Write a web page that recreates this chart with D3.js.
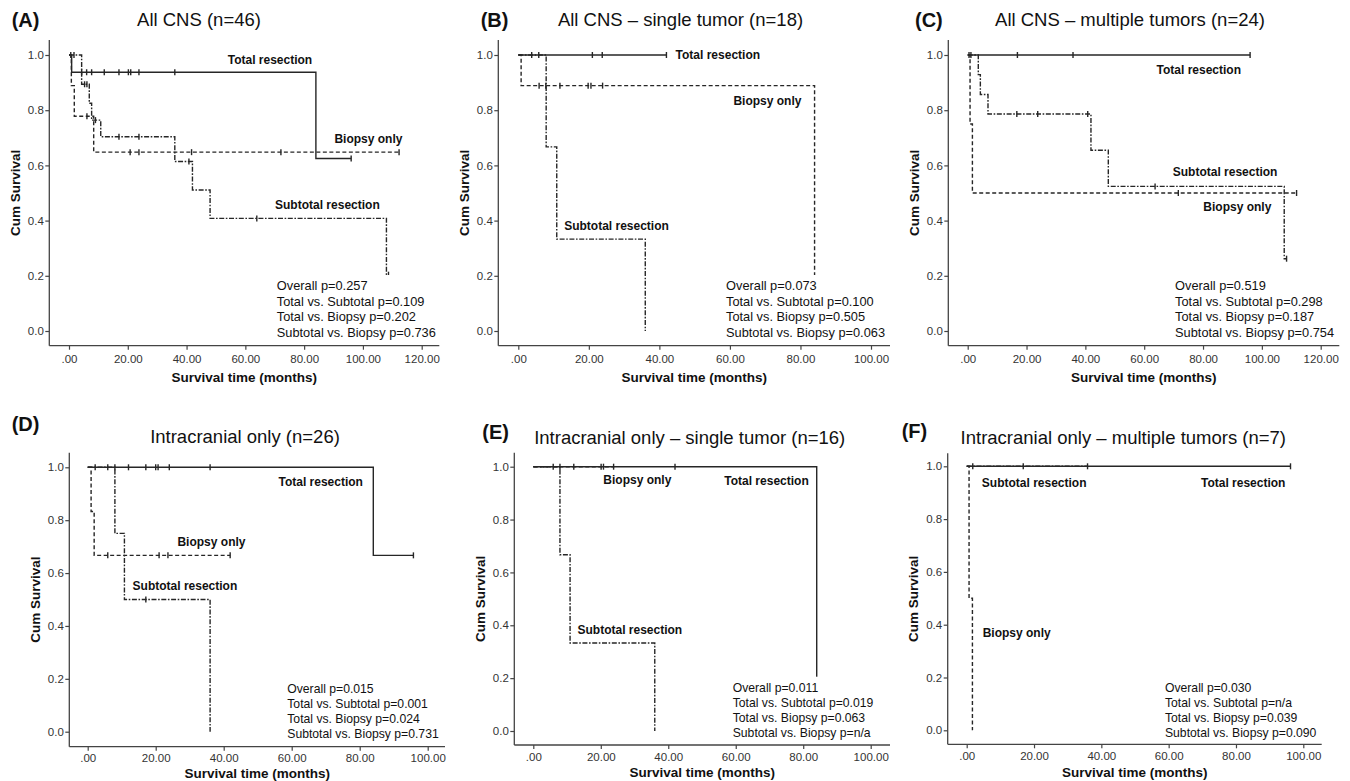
<!DOCTYPE html>
<html><head><meta charset="utf-8">
<script src="https://cdn.jsdelivr.net/npm/d3@7"></script>
<style>
body{margin:0;background:#fff;}
svg{display:block;font-family:"Liberation Sans",Arial,sans-serif;}
</style>
</head><body>
<svg id="chart" width="1350" height="781"></svg>
<script>
// ================= DATA =================
const panelLetters = ["(A)", "(B)", "(C)", "(D)", "(E)", "(F)"];
const panelTitles = [
  "All CNS (n=46)",
  "All CNS – single tumor (n=18)",
  "All CNS – multiple tumors (n=24)",
  "Intracranial only (n=26)",
  "Intracranial only – single tumor (n=16)",
  "Intracranial only – multiple tumors (n=7)"
];
const seriesNames = ["Total resection", "Subtotal resection", "Biopsy only"];
const xTicks120 = [0, 20, 40, 60, 80, 100, 120];
const xTicks100 = [0, 20, 40, 60, 80, 100];
const yTicks = [0, 0.2, 0.4, 0.6, 0.8, 1.0];
const xAxisTitle = "Survival time (months)";
const yAxisTitle = "Cum Survival";

// Panel A — steps: [time, survival after drop]
const aTotalSteps = [[0.9, 0.9375], [84, 0.625]];
const aTotalEnd = 96;
const aTotalCensor = [4.3, 6.0, 7.7, 12, 17, 20.2, 21, 23.8, 36, 96];
const aSubSteps = [[4.3, 0.894], [6.9, 0.825], [7.7, 0.764], [10.8, 0.704], [36, 0.614], [42, 0.511], [48, 0.408], [108, 0.204]];
const aSubEnd = 108.7;
const aSubCensor = [0.6, 1.7, 5.3, 6.1, 9, 17, 23.8, 40.8, 63.9, 108.7];
const aBioSteps = [[0.8, 0.889], [1.8, 0.778], [8.4, 0.648]];
const aBioEnd = 112.3;
const aBioCensor = [6.1, 20.8, 23.8, 41.7, 72.1, 112.3];
const aPValues = ["Overall p=0.257", "Total vs. Subtotal p=0.109", "Total vs. Biopsy p=0.202", "Subtotal vs. Biopsy p=0.736"];

// Panel B
const bTotalSteps = [];
const bTotalEnd = 42;
const bTotalCensor = [3.8, 5.8, 21, 23.8, 42];
const bSubSteps = [[7.9, 0.667], [10.9, 0.333], [36, 0]];
const bSubEnd = 36;
const bSubCensor = [];
const bBioSteps = [[0.8, 0.889], [84, 0]];
const bBioEnd = 84;
const bBioCensor = [5.9, 7.8, 11.8, 19.8, 20.6, 23.9];
const bPValues = ["Overall p=0.073", "Total vs. Subtotal p=0.100", "Total vs. Biopsy p=0.505", "Subtotal vs. Biopsy p=0.063"];

// Panel C
const cTotalSteps = [];
const cTotalEnd = 96;
const cTotalCensor = [0.45, 1.1, 16.9, 35.8, 96];
const cSubSteps = [[3.6, 0.929], [4.3, 0.857], [6.9, 0.786], [41.9, 0.655], [47.8, 0.524], [107.6, 0.262]];
const cSubEnd = 108.4;
const cSubCensor = [16.7, 23.8, 40.8, 63.7, 108.4];
const cBioSteps = [[0.8, 0.75], [1.6, 0.5]];
const cBioEnd = 111.8;
const cBioCensor = [71.6, 111.8];
const cPValues = ["Overall p=0.519", "Total vs. Subtotal p=0.298", "Total vs. Biopsy p=0.187", "Subtotal vs. Biopsy p=0.754"];

// Panel D
const dTotalSteps = [[84, 0.667]];
const dTotalEnd = 95.8;
const dTotalCensor = [2.2, 5.9, 8, 12, 17.1, 20, 20.7, 24, 36, 95.8];
const dSubSteps = [[8, 0.75], [10.8, 0.5], [36, 0]];
const dSubEnd = 36;
const dSubCensor = [17.1];
const dBioSteps = [[1, 0.833], [1.9, 0.667]];
const dBioEnd = 41.9;
const dBioCensor = [5.9, 21, 23.6, 41.9];
const dPValues = ["Overall p=0.015", "Total vs. Subtotal p=0.001", "Total vs. Biopsy p=0.024", "Subtotal vs. Biopsy p=0.731"];

// Panel E
const eTotalSteps = [[84, 0]];
const eTotalEnd = 84;
const eTotalCensor = [5.9, 20.8, 42];
const eSubSteps = [[7.9, 0.667], [10.9, 0.333], [36, 0]];
const eSubEnd = 36;
const eSubCensor = [];
const eBioSteps = [];
const eBioEnd = 24;
const eBioCensor = [7.9, 12, 20.1, 23.8];
const ePValues = ["Overall p=0.011", "Total vs. Subtotal p=0.019", "Total vs. Biopsy p=0.063", "Subtotal vs. Biopsy p=n/a"];

// Panel F
const fTotalSteps = [];
const fTotalEnd = 96.2;
const fTotalCensor = [96.2];
const fSubSteps = [];
const fSubEnd = 35.9;
const fSubCensor = [1.8, 16.8, 35.9];
const fBioSteps = [[0.7, 0.5], [1.7, 0]];
const fBioEnd = 1.7;
const fBioCensor = [];
const fPValues = ["Overall p=0.030", "Total vs. Subtotal p=n/a", "Total vs. Biopsy p=0.039", "Subtotal vs. Biopsy p=0.090"];

// ================= LAYOUT =================
const panels = [
  { data: {total: [aTotalSteps, aTotalEnd, aTotalCensor], sub: [aSubSteps, aSubEnd, aSubCensor], bio: [aBioSteps, aBioEnd, aBioCensor]},
    p: aPValues, xTicks: xTicks120, xMax: 120, x0: 69, x1: 421.7, axL: 49.3, axR: 439.3, y0: 331, y1: 55, axB: 345.7, axT: 40,
    letter: [11.7, 27], title: [199, 26], tickLab: 17, xTitleY: 381.5, pFont: 12.8, pStep: 15.5, pPos: [70.7, 290],
    labels: {total: [54, 0.967], bio: [90.3, 0.682], sub: [70.1, 0.442]} },
  { data: {total: [bTotalSteps, bTotalEnd, bTotalCensor], sub: [bSubSteps, bSubEnd, bSubCensor], bio: [bBioSteps, bBioEnd, bBioCensor]},
    p: bPValues, xTicks: xTicks100, xMax: 100, x0: 518.3, x1: 871, axL: 498.3, axR: 890, y0: 331, y1: 55, axB: 345.7, axT: 40,
    letter: [480.7, 27], title: [680.5, 26], tickLab: 17, xTitleY: 381.5, pFont: 12.8, pStep: 15.5, pPos: [58.9, 290],
    labels: {total: [44.6, 0.984], bio: [61, 0.819], sub: [13, 0.366]} },
  { data: {total: [cTotalSteps, cTotalEnd, cTotalCensor], sub: [cSubSteps, cSubEnd, cSubCensor], bio: [cBioSteps, cBioEnd, cBioCensor]},
    p: cPValues, xTicks: xTicks120, xMax: 120, x0: 967.7, x1: 1320.7, axL: 948.3, axR: 1339.3, y0: 331, y1: 55, axB: 345.7, axT: 40,
    letter: [915, 27], title: [1130, 26], tickLab: 17, xTitleY: 381.5, pFont: 12.8, pStep: 15.5, pPos: [70.5, 290],
    labels: {total: [64.2, 0.931], sub: [69.7, 0.563], bio: [80.1, 0.436]} },
  { data: {total: [dTotalSteps, dTotalEnd, dTotalCensor], sub: [dSubSteps, dSubEnd, dSubCensor], bio: [dBioSteps, dBioEnd, dBioCensor]},
    p: dPValues, xTicks: xTicks100, xMax: 100, x0: 87.7, x1: 427.7, axL: 69.3, axR: 445, y0: 731.7, y1: 467.3, axB: 746.7, axT: 452.7,
    letter: [11.7, 431], title: [245, 442.7], tickLab: 15.3, xTitleY: 777.5, pFont: 12.2, pStep: 15, pPos: [58.7, 693.3],
    labels: {total: [56.1, 0.929], bio: [26.4, 0.702], sub: [13.2, 0.536]} },
  { data: {total: [eTotalSteps, eTotalEnd, eTotalCensor], sub: [eSubSteps, eSubEnd, eSubCensor], bio: [eBioSteps, eBioEnd, eBioCensor]},
    p: ePValues, xTicks: xTicks100, xMax: 100, x0: 533.3, x1: 870.7, axL: 514.3, axR: 890, y0: 731, y1: 466.7, axB: 745, axT: 452.7,
    letter: [482.3, 439.3], title: [689.7, 444.3], tickLab: 15.5, xTitleY: 776.7, pFont: 12.2, pStep: 15, pPos: [59.1, 691.7],
    labels: {bio: [20.75, 0.934], total: [56.6, 0.931], sub: [13.1, 0.367]} },
  { data: {total: [fTotalSteps, fTotalEnd, fTotalCensor], sub: [fSubSteps, fSubEnd, fSubCensor], bio: [fBioSteps, fBioEnd, fBioCensor]},
    p: fPValues, xTicks: xTicks100, xMax: 100, x0: 966.7, x1: 1303.3, axL: 947.7, axR: 1321.7, y0: 730.3, y1: 466.3, axB: 744.3, axT: 453.3,
    letter: [901.7, 437.7], title: [1123.3, 444.3], tickLab: 15.5, xTitleY: 776.7, pFont: 12.2, pStep: 15, pPos: [58.9, 691.7],
    labels: {sub: [4.5, 0.923], total: [69.6, 0.923], bio: [4.75, 0.355]} }
];

const styles = {
  total: {dash: null, name: seriesNames[0]},
  sub: {dash: "5,1.6,1.6,1.6", name: seriesNames[1]},
  bio: {dash: "4,2.5", name: seriesNames[2]}
};

const ink = "#262626";
const svg = d3.select("#chart");
const fmtX = v => v === 0 ? ".00" : d3.format(".2f")(v);
const fmtY = d3.format(".1f");

function stepValue(steps, t) {
  let s = 1;
  for (const st of steps) { if (st[0] <= t) s = st[1]; }
  return s;
}

panels.forEach((P, i) => {
  const g = svg.append("g");
  const x = d3.scaleLinear().domain([0, P.xMax]).range([P.x0, P.x1]);
  const y = d3.scaleLinear().domain([0, 1]).range([P.y0, P.y1]);

  // letter + title
  g.append("text").attr("x", P.letter[0]).attr("y", P.letter[1])
    .attr("font-size", 20).attr("font-weight", "bold").attr("fill", "#111").text(panelLetters[i]);
  g.append("text").attr("x", P.title[0]).attr("y", P.title[1]).attr("text-anchor", "middle")
    .attr("font-size", 18.5).attr("fill", "#111").text(panelTitles[i]);

  // axis lines
  g.append("line").attr("x1", P.axL).attr("x2", P.axL).attr("y1", P.axT).attr("y2", P.axB)
    .attr("stroke", "#444").attr("stroke-width", 1.3);
  g.append("line").attr("x1", P.axL).attr("x2", P.axR).attr("y1", P.axB).attr("y2", P.axB)
    .attr("stroke", "#444").attr("stroke-width", 1.3);

  // x axis ticks via d3 axis
  const xa = d3.axisBottom(x).tickValues(P.xTicks).tickFormat(fmtX).tickSize(4).tickPadding(P.tickLab - 12);
  const gx = g.append("g").attr("transform", `translate(0,${P.axB})`).call(xa);
  gx.select(".domain").remove();
  gx.selectAll(".tick line").attr("stroke", "#444").attr("stroke-width", 1.2);
  gx.selectAll(".tick text").attr("font-size", 11.5).attr("fill", "#333")
    .attr("font-family", '"Liberation Sans",Arial,sans-serif').attr("dy", null).attr("y", P.tickLab);

  // y axis ticks
  const ya = d3.axisLeft(y).tickValues(yTicks).tickFormat(fmtY).tickSize(4).tickPadding(1.5);
  const gy = g.append("g").attr("transform", `translate(${P.axL},0)`).call(ya);
  gy.select(".domain").remove();
  gy.selectAll(".tick line").attr("stroke", "#444").attr("stroke-width", 1.2);
  gy.selectAll(".tick text").attr("font-size", 11.5).attr("fill", "#333")
    .attr("font-family", '"Liberation Sans",Arial,sans-serif');

  // axis titles
  g.append("text").attr("x", (P.axL + P.axR) / 2).attr("y", P.xTitleY).attr("text-anchor", "middle")
    .attr("font-size", 13.5).attr("font-weight", "bold").attr("fill", "#111").text(xAxisTitle);
  const ymid = (P.axT + P.axB) / 2;
  g.append("text").attr("transform", `translate(${P.axL - 29.5},${ymid}) rotate(-90)`)
    .attr("text-anchor", "middle").attr("font-size", 13.5).attr("font-weight", "bold").attr("fill", "#111").text(yAxisTitle);

  // curves
  const line = d3.line().x(d => x(d[0])).y(d => y(d[1])).curve(d3.curveStepAfter);
  ["bio", "sub", "total"].forEach(k => {
    const [steps, end, censor] = P.data[k];
    const last = steps.length ? steps[steps.length - 1][1] : 1;
    const pts = [[0, 1], ...steps, [end, last]];
    const path = g.append("path").attr("d", line(pts)).attr("fill", "none")
      .attr("stroke", ink).attr("stroke-width", 1.4);
    if (styles[k].dash) path.attr("stroke-dasharray", styles[k].dash);
    censor.forEach(c => {
      const s = stepValue(steps, c);
      g.append("line").attr("x1", x(c)).attr("x2", x(c)).attr("y1", y(s) - 3).attr("y2", y(s) + 3)
        .attr("stroke", ink).attr("stroke-width", 1.4);
    });
  });

  // series labels
  Object.keys(P.labels).forEach(k => {
    const [t, s] = P.labels[k];
    g.append("text").attr("x", x(t)).attr("y", y(s)).attr("font-size", 12).attr("font-weight", "bold")
      .attr("fill", "#111").text(styles[k].name);
  });

  // p-value box
  const px = x(P.pPos[0]);
  const py = P.pPos[1];
  g.append("rect").attr("x", px - 3).attr("y", py - 15).attr("width", P.axR - px - 2)
    .attr("height", P.pStep * 3 + 19).attr("fill", "#fff");
  P.p.forEach((txt, j) => {
    g.append("text").attr("x", px).attr("y", py + j * P.pStep).attr("font-size", P.pFont)
      .attr("fill", "#111").text(txt);
  });
});
</script>
</body></html>
